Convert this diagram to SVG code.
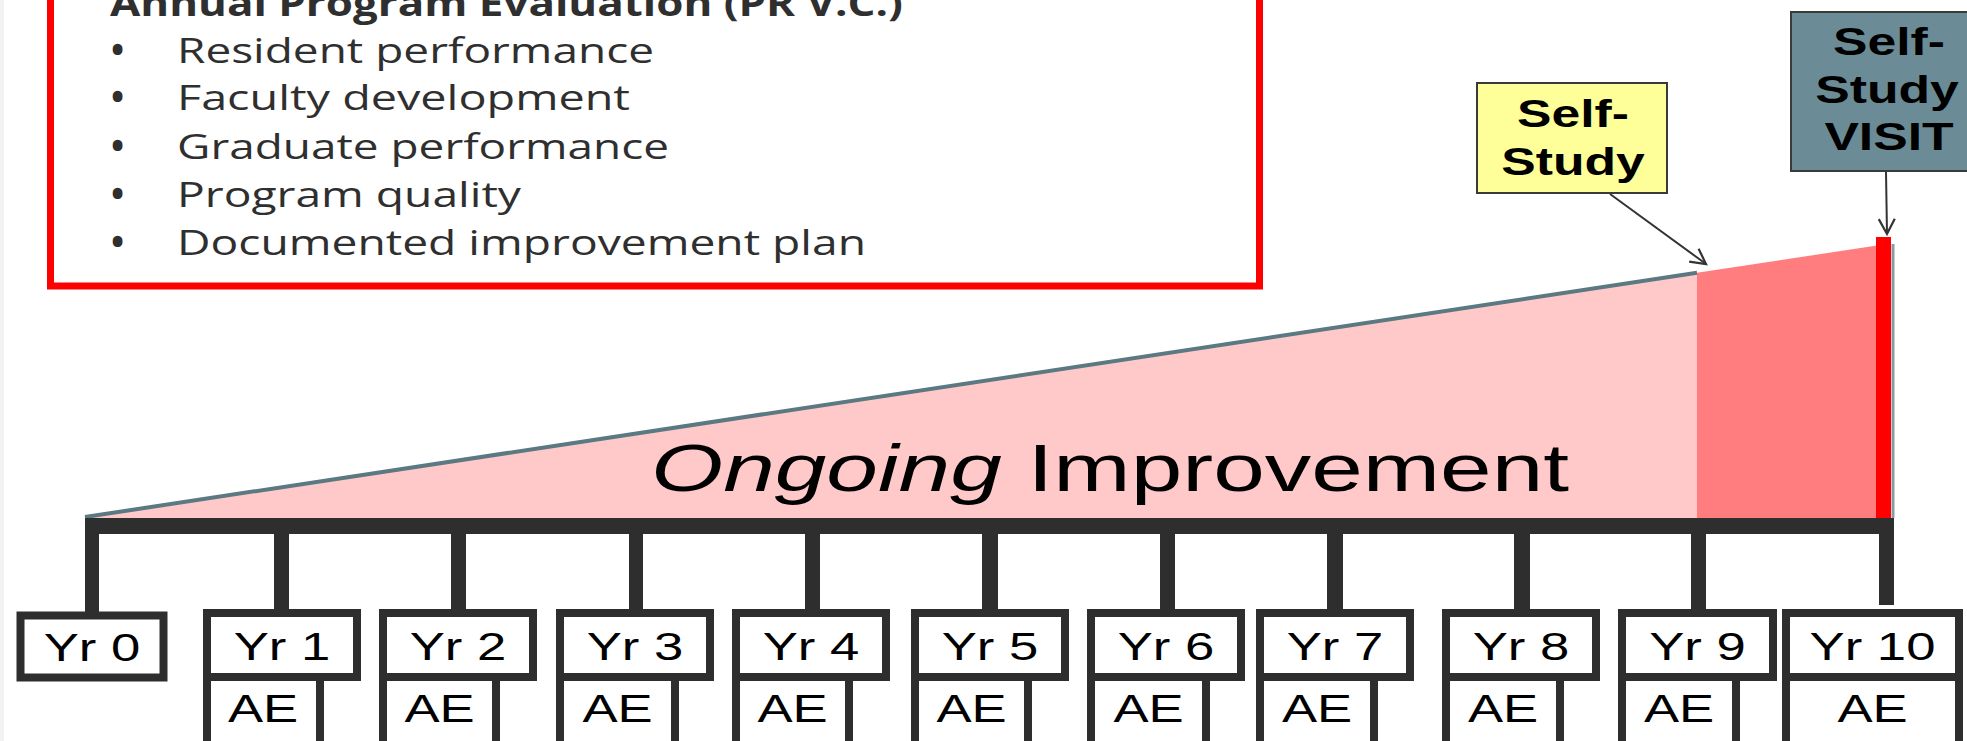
<svg xmlns="http://www.w3.org/2000/svg" width="1967" height="741" viewBox="0 0 1967 741">
  <defs>
    <style>
      .list{font-family:"Open Sans","Liberation Sans",sans-serif;font-size:35px;fill:#2f2f2f}
      .bul{font-weight:bold}
      .title{font-family:"Open Sans","Liberation Sans",sans-serif;font-size:35px;font-weight:bold;fill:#2f2f2f}
      .yr{fill:#fff;stroke:#2e2e2e;stroke-width:8}
      .lbl{font-family:"Liberation Sans",Arial,sans-serif;font-size:39px;fill:#000;text-anchor:middle}
      .big{font-family:"Liberation Sans",Arial,sans-serif;font-size:67px;fill:#000}
      .call{font-family:"Liberation Sans",Arial,sans-serif;font-size:38px;font-weight:bold;fill:#000;text-anchor:middle}
      .leg{fill:#2e2e2e}
      .arrow{stroke:#333;stroke-width:2;fill:none}
    </style>
    <marker id="vhead" markerUnits="userSpaceOnUse" markerWidth="20" markerHeight="20" viewBox="-16 -10 20 20" refX="0" refY="0" orient="auto">
      <path d="M-15,-8 L0,0 L-15,8" fill="none" stroke="#333" stroke-width="2.2"/>
    </marker>
  </defs>
  <rect x="0" y="0" width="1967" height="741" fill="#fff"/>
  <rect x="0" y="0" width="4" height="741" fill="#f2f2f2"/>

  <g id="node-annual-program-evaluation">
    <rect x="50.5" y="-20" width="1209" height="306" fill="#fff" stroke="#ff0000" stroke-width="7"/>
    <text class="title" x="110" y="16" textLength="793" lengthAdjust="spacingAndGlyphs">Annual Program Evaluation (PR V.C.)</text>
    <text class="list" y="63"><tspan class="bul" x="111">•</tspan><tspan x="177" textLength="477" lengthAdjust="spacingAndGlyphs">Resident performance</tspan></text>
    <text class="list" y="110"><tspan class="bul" x="111">•</tspan><tspan x="177" textLength="453" lengthAdjust="spacingAndGlyphs">Faculty development</tspan></text>
    <text class="list" y="159"><tspan class="bul" x="111">•</tspan><tspan x="177" textLength="492" lengthAdjust="spacingAndGlyphs">Graduate performance</tspan></text>
    <text class="list" y="207"><tspan class="bul" x="111">•</tspan><tspan x="177" textLength="344" lengthAdjust="spacingAndGlyphs">Program quality</tspan></text>
    <text class="list" y="255"><tspan class="bul" x="111">•</tspan><tspan x="177" textLength="689" lengthAdjust="spacingAndGlyphs">Documented improvement plan</tspan></text>
  </g>

  <g id="ongoing-improvement">
    <polygon points="85,517 1697,272.8 1697,518 85,518" fill="#ffc9c9"/>
    <polygon points="1697,272.8 1877,245.5 1877,518 1697,518" fill="#ff7d7f"/>
    <line x1="85" y1="517" x2="1697" y2="272.8" stroke="#5b7982" stroke-width="4"/>
    <rect x="1876" y="237" width="15" height="281" fill="#ff0000"/>
    <line x1="1893" y1="244" x2="1893" y2="518" stroke="#8a9ba0" stroke-width="3"/>
    <text class="big" transform="translate(651,491) scale(1.385,1)"><tspan font-style="italic">Ongoing</tspan> Improvement</text>
  </g>

  <g id="connectors">
    <rect class="leg" x="85" y="518" width="1809" height="16"/>
    <rect class="leg" x="85" y="530" width="14" height="83"/>
    <rect class="leg" x="274" y="530" width="15" height="82"/>
    <rect class="leg" x="451" y="530" width="15" height="82"/>
    <rect class="leg" x="629" y="530" width="14" height="82"/>
    <rect class="leg" x="805" y="530" width="15" height="82"/>
    <rect class="leg" x="982" y="530" width="16" height="82"/>
    <rect class="leg" x="1160" y="530" width="15" height="82"/>
    <rect class="leg" x="1327" y="530" width="16" height="82"/>
    <rect class="leg" x="1514" y="530" width="16" height="82"/>
    <rect class="leg" x="1691" y="530" width="15" height="82"/>
    <rect class="leg" x="1879" y="530" width="15" height="75"/>
    <line class="arrow" x1="1610" y1="194" x2="1706" y2="264" marker-end="url(#vhead)"/>
    <line class="arrow" x1="1886" y1="172" x2="1887" y2="234" marker-end="url(#vhead)"/>
  </g>

  <g id="node-self-study">
    <rect x="1477" y="83" width="190" height="110" fill="#ffff99" stroke="#3a3a3a" stroke-width="2"/>
    <text class="call" transform="translate(1573,127) scale(1.36,1)">Self-</text>
    <text class="call" transform="translate(1573,175) scale(1.36,1)">Study</text>
  </g>

  <g id="node-self-study-visit">
    <rect x="1791" y="12" width="180" height="159" fill="#6b8c96" stroke="#3a3a3a" stroke-width="2"/>
    <text class="call" transform="translate(1889,55) scale(1.36,1)">Self-</text>
    <text class="call" transform="translate(1887,103) scale(1.36,1)">Study</text>
    <text class="call" transform="translate(1889,150) scale(1.36,1)">VISIT</text>
  </g>

  <g id="node-yr0">
    <rect class="yr" x="20.5" y="615.5" width="143" height="62" stroke-width="9"/>
    <text class="lbl" transform="translate(92,661) scale(1.35,1)">Yr 0</text>
  </g>
  <g id="node-yr1">
    <rect class="yr" x="207" y="677" width="113" height="70"/>
    <rect class="yr" x="207" y="613" width="150" height="64"/>
    <text class="lbl" transform="translate(282,660) scale(1.35,1)">Yr 1</text>
    <text class="lbl" transform="translate(263,722) scale(1.35,1)">AE</text>
  </g>
  <g id="node-yr2">
    <rect class="yr" x="383" y="677" width="113" height="70"/>
    <rect class="yr" x="383" y="613" width="150" height="64"/>
    <text class="lbl" transform="translate(458,660) scale(1.35,1)">Yr 2</text>
    <text class="lbl" transform="translate(439.5,722) scale(1.35,1)">AE</text>
  </g>
  <g id="node-yr3">
    <rect class="yr" x="560" y="677" width="115" height="70"/>
    <rect class="yr" x="560" y="613" width="150" height="64"/>
    <text class="lbl" transform="translate(635,660) scale(1.35,1)">Yr 3</text>
    <text class="lbl" transform="translate(617.5,722) scale(1.35,1)">AE</text>
  </g>
  <g id="node-yr4">
    <rect class="yr" x="736" y="677" width="113" height="70"/>
    <rect class="yr" x="736" y="613" width="150" height="64"/>
    <text class="lbl" transform="translate(811,660) scale(1.35,1)">Yr 4</text>
    <text class="lbl" transform="translate(792.5,722) scale(1.35,1)">AE</text>
  </g>
  <g id="node-yr5">
    <rect class="yr" x="915" y="677" width="113" height="70"/>
    <rect class="yr" x="915" y="613" width="150" height="64"/>
    <text class="lbl" transform="translate(990,660) scale(1.35,1)">Yr 5</text>
    <text class="lbl" transform="translate(971.5,722) scale(1.35,1)">AE</text>
  </g>
  <g id="node-yr6">
    <rect class="yr" x="1091" y="677" width="115" height="70"/>
    <rect class="yr" x="1091" y="613" width="150" height="64"/>
    <text class="lbl" transform="translate(1166,660) scale(1.35,1)">Yr 6</text>
    <text class="lbl" transform="translate(1148.5,722) scale(1.35,1)">AE</text>
  </g>
  <g id="node-yr7">
    <rect class="yr" x="1260" y="677" width="114" height="70"/>
    <rect class="yr" x="1260" y="613" width="150" height="64"/>
    <text class="lbl" transform="translate(1335,660) scale(1.35,1)">Yr 7</text>
    <text class="lbl" transform="translate(1317,722) scale(1.35,1)">AE</text>
  </g>
  <g id="node-yr8">
    <rect class="yr" x="1446" y="677" width="114" height="70"/>
    <rect class="yr" x="1446" y="613" width="150" height="64"/>
    <text class="lbl" transform="translate(1521,660) scale(1.35,1)">Yr 8</text>
    <text class="lbl" transform="translate(1503,722) scale(1.35,1)">AE</text>
  </g>
  <g id="node-yr9">
    <rect class="yr" x="1622" y="677" width="114" height="70"/>
    <rect class="yr" x="1622" y="613" width="151" height="64"/>
    <text class="lbl" transform="translate(1697.5,660) scale(1.35,1)">Yr 9</text>
    <text class="lbl" transform="translate(1679,722) scale(1.35,1)">AE</text>
  </g>
  <g id="node-yr10">
    <rect class="yr" x="1786" y="677" width="173" height="70"/>
    <rect class="yr" x="1786" y="613" width="173" height="64"/>
    <text class="lbl" transform="translate(1872.5,660) scale(1.35,1)">Yr 10</text>
    <text class="lbl" transform="translate(1872.5,722) scale(1.35,1)">AE</text>
  </g>
</svg>
